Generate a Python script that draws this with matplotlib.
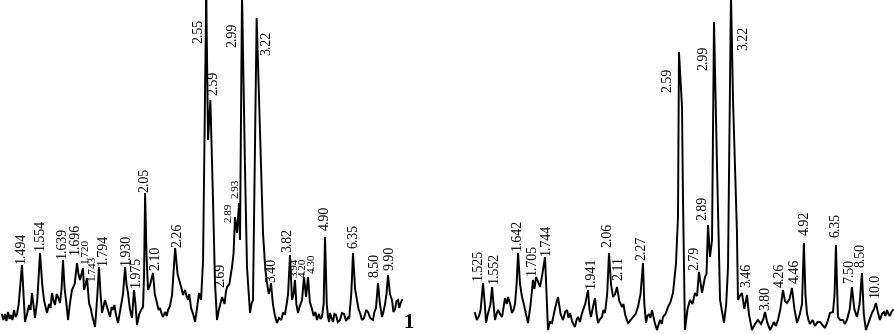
import numpy as np
import matplotlib
matplotlib.use("Agg")
import matplotlib.pyplot as plt
from matplotlib.transforms import ScaledTranslation

# ---------------- data ----------------
WAVELENGTH = 1.5406  # Cu K-alpha, Angstrom

# Pattern 1 (left): 2-theta (deg) and intensity (a.u.)
two_theta_1 = [
    64.82, 64.60, 64.39, 64.17, 63.95, 63.73, 63.52, 63.30, 63.08, 62.86,
    62.65, 62.40, 61.93, 61.70, 61.49, 61.20, 60.91, 60.70, 60.48, 60.25,
    60.04, 59.70, 59.32, 59.00, 58.74, 58.31, 58.00, 57.80, 57.58, 57.35,
    57.15, 56.90, 56.71, 56.42, 56.20, 55.99, 55.75, 55.55, 55.26, 55.00,
    54.69, 54.30, 53.96, 53.75, 53.53, 53.09, 52.95, 52.70, 52.51, 52.22,
    51.95, 51.79, 51.35, 51.05, 50.78, 50.55, 50.34, 50.10, 49.91, 49.62,
    49.40, 49.18, 48.95, 48.75, 48.55, 48.31, 48.02, 47.80, 47.59, 47.30,
    47.00, 46.80, 46.58, 46.30, 46.00, 45.71, 45.50, 45.27, 44.95, 44.69,
    44.40, 44.25, 44.10, 43.90, 43.68, 43.39, 42.96, 42.70, 42.38, 42.15,
    41.94, 41.70, 41.51, 41.20, 40.98, 40.78, 40.50, 40.20, 39.75, 39.40,
    39.05, 38.80, 38.61, 38.32, 38.10, 37.89, 37.70, 37.45, 37.15, 36.87,
    36.60, 36.29, 36.00, 35.71, 35.57, 35.25, 34.99, 34.65, 34.27, 33.98,
    33.69, 33.40, 33.20, 32.96, 32.60, 32.40, 32.24, 31.90, 31.52, 31.30,
    31.08, 30.79, 30.50, 30.36, 30.07, 29.64, 29.35, 28.91, 28.70, 28.48,
    27.95, 27.46, 27.03, 26.70, 26.45, 26.20, 26.00, 25.87, 25.60, 25.30,
    25.00, 24.70, 24.40, 24.13, 23.85, 23.60, 23.40, 23.12, 22.83, 22.60,
    22.40, 22.20, 21.96, 21.70, 21.38, 21.09, 20.80, 20.51, 20.25, 19.93,
    19.70, 19.45, 19.21, 18.95, 18.70, 18.49, 18.25, 18.05, 17.80, 17.62,
    17.45, 17.33, 17.10, 16.89, 16.70, 16.46, 16.20, 15.88, 15.60, 15.30,
    15.00, 14.72, 14.55, 14.43, 14.25, 14.00, 13.70, 13.42, 13.20, 12.98,
    12.70, 12.40, 12.10, 11.83, 11.50, 11.10, 10.90, 10.67, 10.38, 10.10,
    9.80, 9.60, 9.36, 9.15, 8.93, 8.65, 8.35, 8.15, 7.91, 7.70,
    7.48, 7.30, 7.10, 6.90]
intensity_1 = [
    19, 14, 20, 13, 22, 15, 19, 14, 24, 17,
    20, 30, 69, 40, 12, 20, 29, 24, 41, 28,
    16, 35, 81, 50, 34, 21, 30, 26, 41, 33,
    29, 40, 37, 31, 45, 74, 45, 34, 14, 30,
    44, 50, 71, 60, 54, 66, 44, 50, 56, 31,
    25, 19, 7, 35, 67, 40, 21, 28, 34, 27,
    22, 17, 27, 24, 29, 19, 11, 20, 29, 40,
    67, 50, 41, 25, 16, 44, 30, 9, 20, 24,
    27, 60, 141, 80, 44, 49, 61, 40, 31, 24,
    26, 20, 17, 22, 18, 24, 28, 39, 86, 60,
    51, 45, 39, 44, 38, 34, 40, 26, 20, 12,
    25, 41, 34, 74, 154, 340, 194, 234, 134, 51,
    14, 25, 30, 37, 30, 42, 47, 50, 67, 80,
    117, 101, 131, 94, 340, 167, 67, 21, 30, 34,
    316, 201, 101, 65, 51, 40, 45, 51, 30, 18,
    11, 16, 14, 21, 20, 30, 40, 79, 34, 40,
    54, 30, 21, 28, 34, 57, 37, 57, 32, 25,
    18, 22, 14, 20, 15, 17, 30, 97, 30, 17,
    12, 21, 16, 12, 20, 19, 12, 14, 21, 20,
    13, 17, 15, 26, 40, 81, 45, 34, 25, 21,
    14, 16, 24, 22, 16, 14, 22, 26, 51, 30,
    17, 22, 30, 40, 59, 40, 34, 22, 25, 33,
    34, 26, 31, 34]

# Pattern 2 (right)
two_theta_2 = [
    61.74, 61.50, 61.21, 61.00, 60.68, 60.45, 60.28, 60.05, 59.89, 59.70,
    59.49, 59.30, 59.10, 58.90, 58.70, 58.45, 58.17, 57.95, 57.78, 57.55,
    57.38, 57.10, 56.86, 56.66, 56.46, 56.25, 56.06, 55.80, 55.54, 55.30,
    55.14, 54.95, 54.74, 54.40, 54.09, 53.90, 53.69, 53.40, 53.16, 52.85,
    52.50, 52.30, 52.11, 51.85, 51.58, 51.20, 50.79, 50.45, 50.13, 49.85,
    49.60, 49.40, 49.20, 48.90, 48.55, 48.35, 48.15, 47.90, 47.62, 47.20,
    46.83, 46.65, 46.44, 46.15, 45.91, 45.70, 45.51, 45.25, 45.00, 44.80,
    44.59, 44.30, 44.06, 43.80, 43.53, 43.25, 43.01, 42.70, 42.35, 42.15,
    41.95, 41.75, 41.55, 41.20, 40.90, 40.55, 40.24, 39.90, 39.58, 39.40,
    39.18, 39.00, 38.79, 38.60, 38.39, 38.05, 37.73, 37.50, 37.33, 37.10,
    36.94, 36.60, 36.28, 35.95, 35.62, 35.23, 34.96, 34.83, 34.43, 34.30,
    34.04, 33.70, 33.38, 33.05, 32.72, 32.45, 32.19, 31.79, 31.40, 31.20,
    31.00, 30.74, 30.47, 30.21, 29.81, 29.41, 28.89, 28.60, 28.36, 27.97,
    27.70, 27.18, 27.05, 26.80, 26.52, 26.20, 25.86, 25.60, 25.20, 24.80,
    24.41, 24.00, 23.70, 23.48, 23.20, 22.82, 22.55, 22.30, 22.05, 21.77,
    21.45, 21.11, 20.85, 20.58, 20.25, 19.92, 19.60, 19.26, 18.88, 18.60,
    18.35, 18.15, 17.95, 17.75, 17.55, 17.20, 16.89, 16.55, 16.23, 15.90,
    15.57, 15.25, 14.91, 14.51, 14.30, 14.12, 13.86, 13.55, 13.20, 12.95,
    12.67, 12.30, 12.01, 11.70, 11.35, 11.00, 10.69, 10.45, 10.17, 9.80,
    9.37, 9.10, 8.84, 8.60, 8.32, 8.05, 7.79, 7.60, 7.39, 7.20,
    7.01, 6.80, 6.60]
intensity_2 = [
    21, 14, 18, 24, 51, 30, 11, 20, 24, 30,
    47, 30, 14, 20, 24, 20, 17, 28, 36, 30,
    37, 30, 21, 24, 30, 50, 81, 50, 37, 30,
    24, 18, 11, 30, 54, 45, 57, 52, 47, 60,
    77, 40, 4, 12, 11, 25, 37, 20, 14, 22,
    24, 16, 21, 12, 7, 14, 17, 12, 21, 30,
    44, 25, 17, 28, 36, 20, 11, 15, 17, 24,
    21, 40, 81, 50, 37, 40, 47, 33, 27, 30,
    20, 15, 11, 14, 17, 20, 27, 40, 71, 30,
    11, 18, 20, 16, 24, 12, 4, 10, 14, 10,
    17, 20, 27, 32, 41, 70, 117, 282, 227, 134,
    4, 25, 34, 30, 41, 38, 62, 41, 57, 60,
    109, 77, 94, 312, 167, 34, 11, 30, 67, 340,
    234, 101, 34, 38, 41, 25, 39, 20, 4, 10,
    14, 10, 15, 22, 12, 4, 8, 12, 8, 14,
    25, 44, 33, 31, 35, 46, 25, 11, 20, 30,
    91, 40, 21, 14, 10, 14, 8, 12, 12, 9,
    6, 12, 21, 22, 40, 89, 17, 14, 14, 10,
    14, 25, 47, 25, 17, 30, 61, 20, 4, 12,
    21, 25, 31, 22, 14, 20, 22, 18, 24, 20,
    18, 22, 24]

# d-spacing labels (Angstrom)
d_labels_1 = ["1.494", "1.554", "1.639", "1.696", "1.720", "1.743", "1.794", "1.930",
              "1.975", "2.05", "2.10", "2.26", "2.55", "2.59", "2.69", "2.89", "2.93",
              "2.99", "3.22", "3.40", "3.82", "3.94", "4.20", "4.30", "4.90", "6.35",
              "8.50", "9.90"]
d_labels_2 = ["1.525", "1.552", "1.642", "1.705", "1.744", "1.941", "2.06", "2.11",
              "2.27", "2.59", "2.79", "2.89", "2.99", "3.22", "3.46", "3.80", "4.26",
              "4.46", "4.92", "6.35", "7.50", "8.50", "10.0"]
pattern_number = "1"

# ---------------- layout (pixel offsets / label heights) ----------------
# (x offset in px from the Bragg position, label bottom height, font size)
layout_1 = [(0, 71, 10), (1, 84, 10), (0, 76, 10), (-1.5, 80, 10), (3.5, 71, 8), (5, 54, 8),
            (5, 69, 10), (1, 69, 10), (4, 47, 10), (0, 142, 10), (3.5, 64, 10), (3, 87, 10),
            (-8, 291, 10), (3, 239, 10), (1, 47, 10), (-7, 112, 8), (-3, 136, 8),
            (-11, 287, 10), (8.5, 279, 10), (3, 52, 10), (-1, 82, 10), (1, 57, 8),
            (0, 57, 8), (5, 61, 8), (0, 104, 10), (0, 86, 10), (-3, 57, 10), (2, 64, 10)]
layout_2 = [(-5, 54, 10), (2, 51, 10), (-2, 84, 10), (-4, 59, 10), (1, 79, 10),
            (2.5, 46, 10), (-2, 87, 10), (0, 54, 10), (0, 74, 10), (-13, 242, 10),
            (-5, 64, 10), (-5.5, 114, 10), (-12.5, 264, 10), (11, 284, 10), (-1, 47, 10),
            (0, 24, 10), (-5, 47, 10), (3, 51, 10), (-1, 99, 10), (-1, 97, 10),
            (-3.5, 51, 10), (-3, 67, 10), (-1, 37, 10)]

W, H = 895, 334
plt.rcParams['font.family'] = ['Liberation Serif', 'DejaVu Serif']

fig = plt.figure(figsize=(W / 100, H / 100), dpi=100)
fig.patch.set_facecolor('white')


def bragg_two_theta(d):
    return np.degrees(2 * np.arcsin(WAVELENGTH / (2 * float(d))))


def draw_panel(rect, xlim, tt, inten, labels, layout):
    ax = fig.add_axes(rect)
    ax.plot(tt, inten, color='black', lw=1.4, solid_joinstyle='miter')
    ax.set_xlim(*xlim)
    ax.set_ylim(0, H)
    ax.axis('off')
    for lab, (dx, yb, fs) in zip(labels, layout):
        tr = ax.transData + ScaledTranslation(dx / 100, 0, fig.dpi_scale_trans)
        ax.text(bragg_two_theta(lab), yb, lab, rotation=90, ha='center', va='bottom',
                fontsize=fs, transform=tr, color='black')
    return ax


axL = draw_panel([0, 0, 403 / W, 1], (65.11, 6.76), two_theta_1, intensity_1,
                 d_labels_1, layout_1)
axR = draw_panel([470 / W, 0, 425 / W, 1], (62.40, 6.33), two_theta_2, intensity_2,
                 d_labels_2, layout_2)

fig.text(409 / W, 1 / H, pattern_number, ha='center', va='bottom', fontsize=15,
         fontweight='bold')

fig.savefig('out.png', dpi=100, facecolor='white')
